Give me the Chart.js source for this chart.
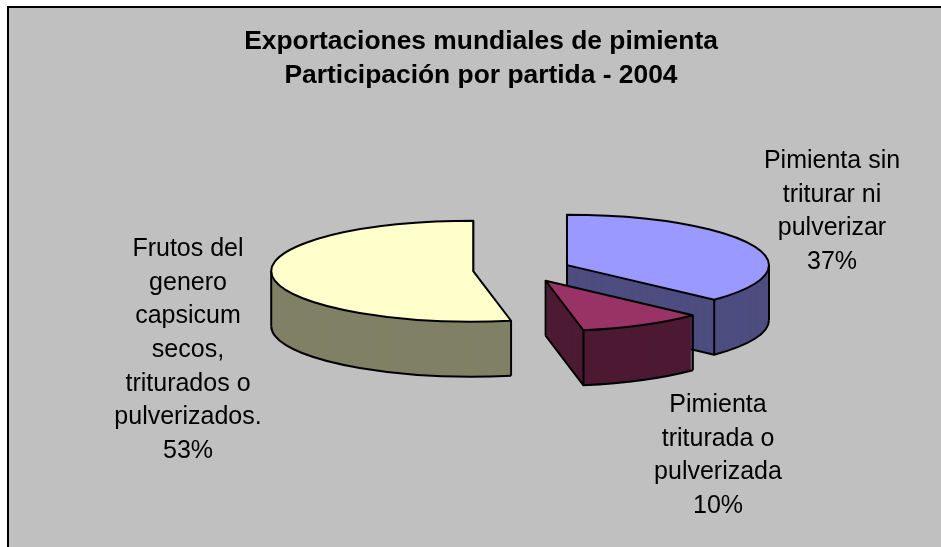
<!DOCTYPE html>
<html>
<head>
<meta charset="utf-8">
<title>Exportaciones mundiales de pimienta</title>
<script src="https://cdn.jsdelivr.net/npm/chart.js@4"></script>
<style>
  html, body { margin: 0; padding: 0; background: #fff; overflow: hidden; }
  #frame { position: absolute; left: 7px; top: 6px; right: 0; bottom: 0; background: #c0c0c0;
           border-left: 2px solid #000; border-top: 2px solid #000; }
  #pie { position: absolute; left: 0; top: 0; }
</style>
</head>
<body>
<div id="frame"></div>
<canvas id="pie" width="941" height="547"></canvas>
<script>
//Data
const categories = [
    "Pimienta sin triturar ni pulverizar",
    "Pimienta triturada o pulverizada",
    "Frutos del genero capsicum secos, triturados o pulverizados."
];
const shares = [37, 10, 53];
const titleLines = ["Exportaciones mundiales de pimienta", "Participación por partida - 2004"];

//Colors
const topColors = ["#9999ff", "#993366", "#ffffcc"];
const sideColors = ["#4d4d80", "#4d1a33", "#808066"];

//Label wrapping, same order as categories
const labelLines = [
    ["Pimienta sin", "triturar ni", "pulverizar"],
    ["Pimienta", "triturada o", "pulverizada"],
    ["Frutos del", "genero", "capsicum", "secos,", "triturados o", "pulverizados."]
];
const labelAnchors = [
    { x: 832, y: 161 },
    { x: 718, y: 405 },
    { x: 188, y: 249 }
];
const labelLineHeight = 33.7;

//3D look: the flat pie gets squashed and pushed down
const pieCentre = { x: 522, y: 270 };
const squash = 0.25;
const depth = 55;
const explode = 49;
const paintOrder = [2, 0, 1];

//Moves the context so the arc lands on the squashed pie, "down" pixels lower
const project = (ctx, arc, down) => {
    const mid = (arc.startAngle + arc.endAngle) / 2;
    ctx.translate(pieCentre.x + Math.cos(mid) * explode, pieCentre.y + Math.sin(mid) * explode * squash + down);
    ctx.scale(1, squash);
    ctx.translate(-arc.x, -arc.y);
};

const strokeOutline = (ctx, arc, down) => {
    ctx.save();
    project(ctx, arc, down);
    ctx.beginPath();
    ctx.moveTo(arc.x, arc.y);
    ctx.arc(arc.x, arc.y, arc.outerRadius, arc.startAngle, arc.endAngle);
    ctx.closePath();
    ctx.restore();
    ctx.stroke();
};

//Bottom edge of the wall: only the front half of the rim, plus the cut side on narrow slices
const strokeBottom = (ctx, arc) => {
    const from = Math.max(arc.startAngle, 0);
    const to = Math.min(arc.endAngle, Math.PI);
    ctx.save();
    project(ctx, arc, depth);
    ctx.beginPath();
    ctx.arc(arc.x, arc.y, arc.outerRadius, from, to);
    if (arc.circumference < Math.PI) ctx.lineTo(arc.x, arc.y);
    ctx.restore();
    ctx.stroke();
};

//Vertical edges of the side walls
const strokeEdges = (ctx, arc) => {
    const angles = [arc.startAngle, arc.endAngle];
    [0, Math.PI, Math.PI * 2].forEach((a) => {
        if (a > arc.startAngle && a < arc.endAngle) angles.push(a);
    });
    const mid = (arc.startAngle + arc.endAngle) / 2;
    const cx = pieCentre.x + Math.cos(mid) * explode;
    const cy = pieCentre.y + Math.sin(mid) * explode * squash;
    const points = angles.map((a) => [
        cx + Math.cos(a) * arc.outerRadius,
        cy + Math.sin(a) * arc.outerRadius * squash
    ]);
    if (arc.circumference < Math.PI) points.push([cx, cy]);
    points.forEach(([x, y]) => {
        ctx.beginPath();
        ctx.moveTo(x, y);
        ctx.lineTo(x, y + depth);
        ctx.stroke();
    });
};

const pie3d = {
    id: "pie3d",
    beforeDatasetsDraw(chart) {
        const ctx = chart.ctx;
        const arcs = chart.getDatasetMeta(0).data;
        ctx.lineWidth = 2;
        ctx.strokeStyle = "#000";
        ctx.lineJoin = "round";
        paintOrder.forEach((i) => {
            const arc = arcs[i];
            const topOptions = arc.options;
            arc.options = Object.assign({}, topOptions, { backgroundColor: sideColors[i] });
            for (let down = depth; down > 0; down--) {
                ctx.save();
                project(ctx, arc, down);
                arc.draw(ctx);
                ctx.restore();
            }
            arc.options = topOptions;
            strokeBottom(ctx, arc);
            strokeEdges(ctx, arc);
            ctx.save();
            project(ctx, arc, 0);
            arc.draw(ctx);
            ctx.restore();
            strokeOutline(ctx, arc, 0);
        });
        return false;
    },
    afterDraw(chart) {
        const ctx = chart.ctx;
        ctx.save();
        ctx.font = "25px 'Liberation Sans'";
        ctx.fillStyle = "#000";
        ctx.textAlign = "center";
        ctx.textBaseline = "middle";
        labelLines.forEach((lines, i) => {
            const all = lines.concat(shares[i] + "%");
            all.forEach((line, n) => {
                ctx.fillText(line, labelAnchors[i].x, labelAnchors[i].y + n * labelLineHeight);
            });
        });
        ctx.restore();
    }
};

new Chart(document.getElementById("pie"), {
    type: "pie",
    data: {
        labels: categories,
        datasets: [
            {
                data: shares,
                backgroundColor: topColors,
                borderWidth: 0,
                radius: 202
            }
        ]
    },
    options: {
        responsive: false,
        animation: false,
        layout: { padding: { left: 21 } },
        plugins: {
            legend: { display: false },
            tooltip: { enabled: false },
            title: {
                display: true,
                text: titleLines,
                color: "#000",
                font: { family: "'Liberation Sans'", size: 26.4, weight: "bold", lineHeight: 34 / 26.4 },
                padding: { top: 24.5, bottom: 0 }
            }
        }
    },
    plugins: [pie3d]
});
</script>
</body>
</html>
